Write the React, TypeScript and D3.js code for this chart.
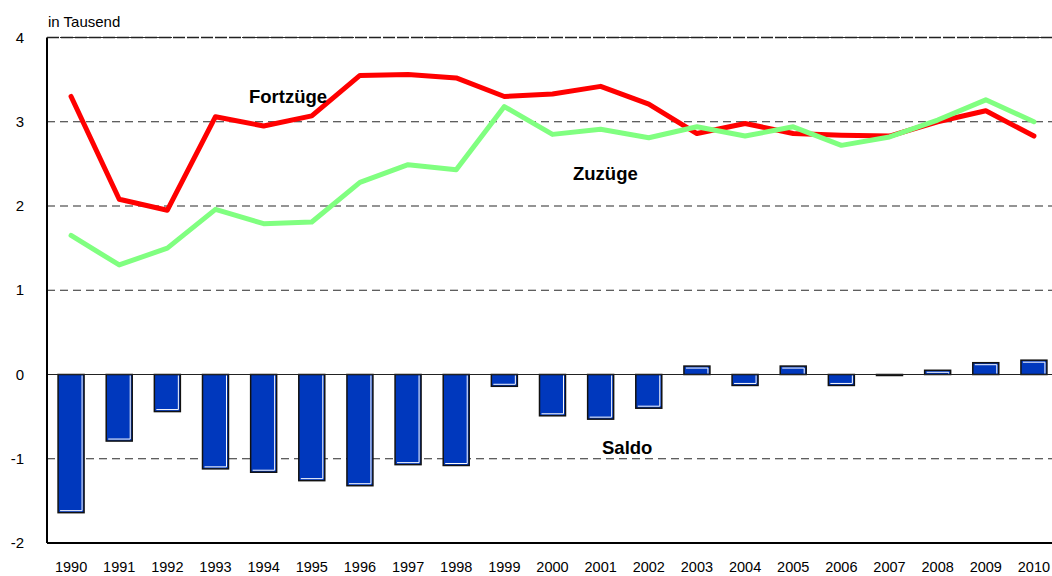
import React, { useEffect, useRef } from "react";
import * as d3 from "d3";

const years = [
  "1990", "1991", "1992", "1993", "1994", "1995", "1996", "1997", "1998", "1999", "2000",
  "2001", "2002", "2003", "2004", "2005", "2006", "2007", "2008", "2009", "2010",
];
const fortzuege = [
  3.3, 2.08, 1.95, 3.06, 2.95, 3.07, 3.55, 3.56, 3.52, 3.3, 3.33,
  3.42, 3.21, 2.86, 2.98, 2.86, 2.84, 2.83, 3.0, 3.13, 2.83,
];
const zuzuege = [
  1.65, 1.3, 1.5, 1.96, 1.79, 1.81, 2.28, 2.49, 2.43, 3.18, 2.85,
  2.91, 2.81, 2.94, 2.83, 2.94, 2.72, 2.82, 3.02, 3.26, 3.0,
];
const saldo = [
  -1.64, -0.79, -0.44, -1.12, -1.16, -1.26, -1.32, -1.07, -1.08, -0.14, -0.49,
  -0.53, -0.4, 0.1, -0.13, 0.1, -0.13, -0.01, 0.05, 0.14, 0.17,
];
const yTicks = [-2, -1, 0, 1, 2, 3, 4];

const W = 1052;
const H = 576;
const margin = { top: 37.5, right: -6, bottom: 33, left: 47 };
const font = "Liberation Sans, Arial, sans-serif";

const App = () => {
  const ref = useRef<SVGSVGElement>(null);

  useEffect(() => {
    const svg = d3.select(ref.current);
    svg.selectAll("*").remove();

    const x = d3
      .scaleBand()
      .domain(years)
      .range([margin.left, W - margin.right])
      .paddingInner(0.46)
      .paddingOuter(0.23);
    const xc = d3
      .scalePoint()
      .domain(years)
      .range([margin.left, W - margin.right])
      .padding(0.5);
    const y = d3
      .scaleLinear()
      .domain([-2, 4])
      .range([H - margin.bottom, margin.top]);

    // dashed gridlines
    svg
      .append("g")
      .selectAll("line")
      .data(yTicks.filter((t) => t !== 0 && t !== -2))
      .enter()
      .append("line")
      .attr("x1", margin.left)
      .attr("x2", W)
      .attr("y1", (d) => y(d))
      .attr("y2", (d) => y(d))
      .attr("stroke", "#2a2a2a")
      .attr("stroke-width", 1.1)
      .attr("stroke-dasharray", "8,5");

    // bars
    const bars = svg.append("g");
    saldo.forEach((v, i) => {
      const bx = x(years[i])!;
      const bw = x.bandwidth();
      const y0 = y(0);
      const y1 = y(v);
      const top = Math.min(y0, y1);
      const h = Math.abs(y1 - y0);
      bars
        .append("rect")
        .attr("x", bx)
        .attr("y", top)
        .attr("width", bw)
        .attr("height", Math.max(h, 1))
        .attr("fill", "#0038bd")
        .attr("stroke", "#111")
        .attr("stroke-width", 1.5);
      if (h > 4) {
        const far = v < 0 ? top + h - 2 : top + 2;
        bars
          .append("polyline")
          .attr(
            "points",
            `${bx + bw - 2},${v < 0 ? top + 1 : top + h - 1} ${bx + bw - 2},${far} ${bx + 2},${far}`
          )
          .attr("fill", "none")
          .attr("stroke", "#fff")
          .attr("stroke-width", 1);
      }
    });

    // zero line
    svg
      .append("line")
      .attr("x1", margin.left)
      .attr("x2", W)
      .attr("y1", y(0))
      .attr("y2", y(0))
      .attr("stroke", "#222")
      .attr("stroke-width", 1.2);

    // lines
    const line = d3
      .line<number>()
      .x((_, i) => xc(years[i])!)
      .y((d) => y(d));
    svg
      .append("path")
      .datum(fortzuege)
      .attr("d", line)
      .attr("fill", "none")
      .attr("stroke", "#ff0000")
      .attr("stroke-width", 5)
      .attr("stroke-linejoin", "round")
      .attr("stroke-linecap", "round");
    svg
      .append("path")
      .datum(zuzuege)
      .attr("d", line)
      .attr("fill", "none")
      .attr("stroke", "#80ff80")
      .attr("stroke-width", 5)
      .attr("stroke-linejoin", "round")
      .attr("stroke-linecap", "round");

    // axes
    svg
      .append("line")
      .attr("x1", margin.left)
      .attr("x2", margin.left)
      .attr("y1", y(4))
      .attr("y2", y(-2))
      .attr("stroke", "#000")
      .attr("stroke-width", 2);
    svg
      .append("line")
      .attr("x1", margin.left)
      .attr("x2", W)
      .attr("y1", y(-2))
      .attr("y2", y(-2))
      .attr("stroke", "#000")
      .attr("stroke-width", 2);
    svg
      .append("line")
      .attr("x1", margin.left)
      .attr("x2", W)
      .attr("y1", y(4))
      .attr("y2", y(4))
      .attr("stroke", "#222")
      .attr("stroke-width", 1.5)
      .attr("stroke-dasharray", "12,2");

    // tick labels
    svg
      .append("g")
      .selectAll("text")
      .data(yTicks)
      .enter()
      .append("text")
      .attr("x", 24)
      .attr("y", (d) => y(d) + 5)
      .attr("text-anchor", "end")
      .attr("font-family", font)
      .attr("font-size", 15)
      .text((d) => d);
    svg
      .append("g")
      .selectAll("text")
      .data(years)
      .enter()
      .append("text")
      .attr("x", (d) => xc(d)!)
      .attr("y", 572)
      .attr("text-anchor", "middle")
      .attr("font-family", font)
      .attr("font-size", 14.5)
      .text((d) => d);

    svg
      .append("text")
      .attr("x", 48)
      .attr("y", 27)
      .attr("font-family", font)
      .attr("font-size", 15)
      .text("in Tausend");

    const labels = [
      { t: "Fortzüge", x: 249, y: 103 },
      { t: "Zuzüge", x: 573, y: 180 },
      { t: "Saldo", x: 602, y: 454 },
    ];
    labels.forEach((l) =>
      svg
        .append("text")
        .attr("x", l.x)
        .attr("y", l.y)
        .attr("font-family", font)
        .attr("font-size", 18.5)
        .attr("font-weight", "bold")
        .text(l.t)
    );
  }, []);

  return (
    <svg
      ref={ref}
      width={W}
      height={H}
      style={{ position: "absolute", left: 0, top: 0, background: "#fff" }}
    />
  );
};

export default App;
